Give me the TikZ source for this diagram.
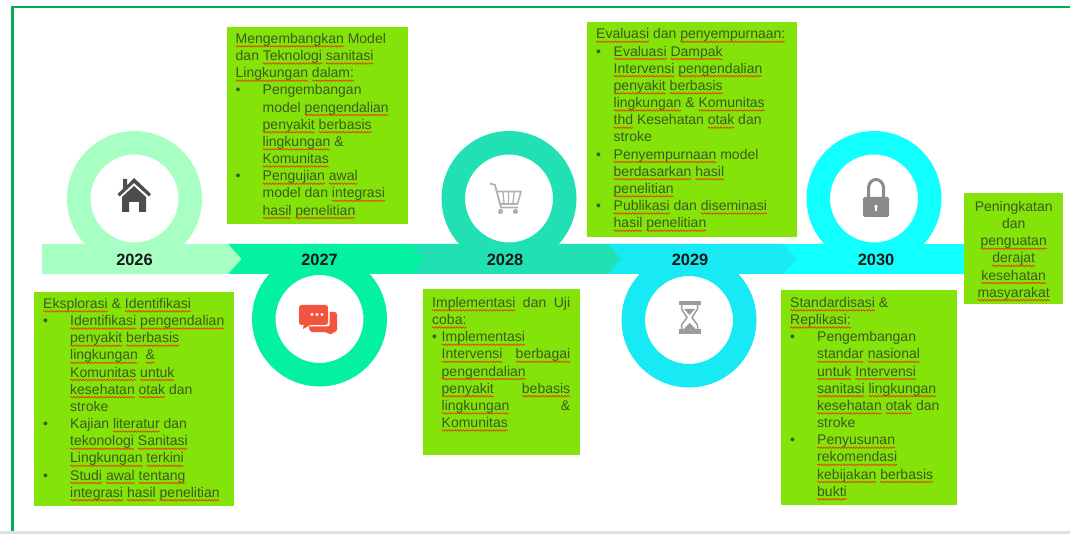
\documentclass[tikz,border=0pt]{standalone}
\usepackage{fontspec}
\setmainfont{Liberation Sans}
\usetikzlibrary{decorations.pathmorphing}
\definecolor{cframe}{HTML}{00B050}
\definecolor{cbox}{HTML}{84E308}
\definecolor{ctext}{HTML}{3E5A22}
\definecolor{cA}{HTML}{A8FFC4}
\definecolor{cB}{HTML}{04F2A0}
\definecolor{cC}{HTML}{20E0B4}
\definecolor{cD}{HTML}{17E9F5}
\definecolor{cE}{HTML}{12FFFF}
\definecolor{cwave}{HTML}{E8380C}
\definecolor{cdark}{HTML}{4D4D4D}
\definecolor{cgray}{HTML}{8A8A8A}
\definecolor{clight}{HTML}{B0B0B0}
\definecolor{cchat}{HTML}{F2543F}
\definecolor{cfoot}{HTML}{DCE2E2}
\newsavebox\sqbox
\newlength\sqw
\newcommand\sq[1]{\sbox\sqbox{#1}\setlength\sqw{\wd\sqbox}\leavevmode\usebox\sqbox\begin{tikzpicture}[overlay,baseline=0pt]\draw[cwave,line width=.7pt,decorate,decoration={snake,amplitude=.7pt,segment length=3pt}] (-\sqw,-3pt) -- (0pt,-3pt);\end{tikzpicture}}
\newcommand\tbox[5]{\begin{minipage}[c][#2pt][t]{#1pt}\fontsize{14}{17.17}\selectfont\color{ctext}\vspace*{#4pt}\leftskip=#3pt\rightskip=0pt plus 1fil\parindent=0pt\parskip=0pt #5\end{minipage}}
\newcommand\bul[1]{\par\hangindent=#1pt\hangafter=1\noindent\makebox[#1pt][l]{\textbullet}}
\newcommand\jl[2]{\leavevmode\hbox to #1pt{#2}}
\tikzset{
 textbox/.style={anchor=north west,inner sep=0pt,fill=cbox,draw=none},
 ringshape/.style={circle,inner sep=0pt,minimum size=111.5pt,line width=23.5pt,fill=white},
 yearlabel/.style={font=\fontsize{16.4}{18}\selectfont\bfseries,text=black!90,inner sep=0pt},
 x=1pt,y=-1pt
}
\begin{document}
\begin{tikzpicture}
\useasboundingbox (0,0) rectangle (1070,534);
\fill[white] (0,0) rectangle (1070,534);
% frame
\fill[cfoot] (0,531) rectangle (1070,534);
\fill[cframe] (10.5,5.7) rectangle (1070,8.4);
\fill[cframe] (10.5,5.7) rectangle (13.5,531);
% band, last segment first
\fill[cE] (780,244) -- (965,244) -- (965,274) -- (780,274) -- cycle;
\fill[cD] (606,244) -- (783,244) -- (797,259) -- (783,274) -- (606,274) -- cycle;
\fill[cC] (410,244) -- (608,244) -- (621,259) -- (608,274) -- (410,274) -- cycle;
\fill[cB] (226,244) -- (410,244) -- (424,259) -- (410,274) -- (226,274) -- cycle;
\fill[cA] (42,244) -- (228,244) -- (241.5,259) -- (228,274) -- (42,274) -- cycle;
% rings
\node[ringshape,draw=cA] (r26) at (134.5,198.5) {};
\node[ringshape,draw=cB] (r27) at (319.5,319) {};
\node[ringshape,draw=cC] (r28) at (509,198.5) {};
\node[ringshape,draw=cD] (r29) at (689,320) {};
\node[ringshape,draw=cE] (r30) at (874,198.5) {};
% years
\node[yearlabel] (y26) at (134.5,259.5) {2026};
\node[yearlabel] (y27) at (319.5,259.5) {2027};
\node[yearlabel] (y28) at (505,259.5) {2028};
\node[yearlabel] (y29) at (690,259.5) {2029};
\node[yearlabel] (y30) at (876,259.5) {2030};
% house
\fill[cdark] (122,197) -- (134,186) -- (146,197) -- (146,212) -- (139,212) -- (139,202) -- (129,202) -- (129,212) -- (122,212) -- cycle;
\fill[cdark] (117.5,194) -- (123,189) -- (123,179) -- (127,179) -- (127,185.5) -- (134,178) -- (151,194) -- (149,196.5) -- (134,183) -- (119.5,196.5) -- cycle;
% chat
\fill[cchat,rounded corners=2.5pt] (305,312) -- (337,312) -- (337,332) -- (333,332) -- (331,335) -- (326,332) -- (310,332) -- cycle;
\fill[white,rounded corners=2pt] (297.5,303.5) rectangle (329.5,326.5);
\fill[white] (301,325) -- (308,325) -- (301,331) -- cycle;
\fill[cchat,rounded corners=2.5pt] (299,305) rectangle (328,325);
\fill[cchat] (304,323) -- (312,324) -- (303,329) -- cycle;
\fill[white] (312,314.5) circle (1.6) (317,314.5) circle (1.6) (322,314.5) circle (1.6);
% cart
\draw[clight,line width=1.8pt,line join=round] (490,183.5) -- (495,185) -- (501,207.5) -- (518,207.5);
\draw[clight,line width=1.6pt,line join=round] (496,191.5) -- (521,191.5) -- (517.5,204) -- (499.5,204);
\draw[clight,line width=1.3pt] (503,192) -- (504,204) (508.5,192) -- (508.5,204) (514,192) -- (513,204);
\fill[clight] (500.5,211.5) circle (2.6) (515.5,211.5) circle (2.6);
% hourglass
\fill[cgray!85] (678.5,301.5) rectangle (700.5,305);
\fill[cgray!85] (678.5,329) rectangle (700.5,333.5);
\draw[cgray!85,line width=1.5pt,line join=round] (681.5,305) -- (681.5,309) -- (687,317.5) -- (681.5,325) -- (681.5,329) (697.5,305) -- (697.5,309) -- (692,317.5) -- (697.5,325) -- (697.5,329);
\fill[cgray!85] (684,309) -- (695,309) -- (689.5,315) -- cycle;
\fill[cgray!85] (683.5,329) -- (689.5,323) -- (695.5,329) -- cycle;
% lock
\draw[cgray,line width=3pt] (868.5,198) -- (868.5,188) arc[start angle=180,end angle=0,x radius=7.5,y radius=-8.5] -- (883.5,198);
\fill[cgray,rounded corners=1.5pt] (863,197) rectangle (889,217);
\fill[white] (876,206.5) circle (1.8);
\fill[white] (875.2,206.5) rectangle (876.8,211);
% text boxes
\node[textbox] (tA) at (34,292) {\tbox{200}{214}{9}{6}{\sq{Eksplorasi} \& \sq{Identifikasi}
\bul{27}\sq{Identifikasi} \sq{pengendalian}\\\sq{penyakit} \sq{berbasis}\\\sq{lingkungan}\ \ \sq{\&}\\\sq{Komunitas} \sq{untuk}\\\sq{kesehatan} \sq{otak} dan\\stroke
\bul{27}Kajian \sq{literatur} dan\\\sq{tekonologi} \sq{Sanitasi}\\\sq{Lingkungan} \sq{terkini}
\bul{27}\sq{Studi} \sq{awal} \sq{tentang}\\\sq{integrasi} \sq{hasil} \sq{penelitian}}};
\node[textbox] (tB) at (227,27) {\tbox{181}{197}{8.5}{6}{\sq{Mengembangkan} Model\\dan \sq{Teknologi} \sq{sanitasi}\\\sq{Lingkungan} \sq{dalam:}
\bul{27}Pengembangan\\model \sq{pengendalian}\\\sq{penyakit} \sq{berbasis}\\\sq{lingkungan} \&\\\sq{Komunitas}
\bul{27}\sq{Pengujian} \sq{awal}\\model dan \sq{integrasi}\\\sq{hasil} \sq{penelitian}}};
\node[textbox] (tC) at (423,289) {\tbox{157}{166}{9}{8}{\jl{138}{\sq{Implementasi}\hfill dan\hfill Uji}\\\sq{coba:}
\bul{9.5}\sq{Implementasi}\\\jl{128.5}{\sq{Intervensi}\hfill\sq{berbagai}}\\\sq{pengendalian}\\\jl{128.5}{\sq{penyakit}\hfill\sq{bebasis}}\\\jl{128.5}{\sq{lingkungan}\hfill\&}\\\sq{Komunitas}}};
\node[textbox] (tD) at (587,22) {\tbox{210}{215}{9}{6.5}{\sq{Evaluasi} dan \sq{penyempurnaan:}
\bul{17.5}\sq{Evaluasi} \sq{Dampak}\\\sq{Intervensi} \sq{pengendalian}\\\sq{penyakit} \sq{berbasis}\\\sq{lingkungan} \& \sq{Komunitas}\\\sq{thd} Kesehatan \sq{otak} dan\\stroke
\bul{17.5}\sq{Penyempurnaan} model\\\sq{berdasarkan} \sq{hasil}\\\sq{penelitian}
\bul{17.5}\sq{Publikasi} dan \sq{diseminasi}\\\sq{hasil} \sq{penelitian}}};
\node[textbox] (tE) at (781,290) {\tbox{176}{215}{9}{7}{\sq{Standardisasi} \&\\\sq{Replikasi:}
\bul{27}Pengembangan\\\sq{standar} \sq{nasional}\\\sq{untuk} \sq{Intervensi}\\\sq{sanitasi} \sq{lingkungan}\\\sq{kesehatan} \sq{otak} dan\\stroke
\bul{27}\sq{Penyusunan}\\\sq{rekomendasi}\\\sq{kebijakan} \sq{berbasis}\\\sq{bukti}}};
\node[textbox] (tF) at (964,193) {\tbox{99}{111}{0}{8}{\centering Peningkatan\\dan\\\sq{penguatan}\\\sq{derajat}\\\sq{kesehatan}\\\sq{masyarakat}}};
\end{tikzpicture}
\end{document}
